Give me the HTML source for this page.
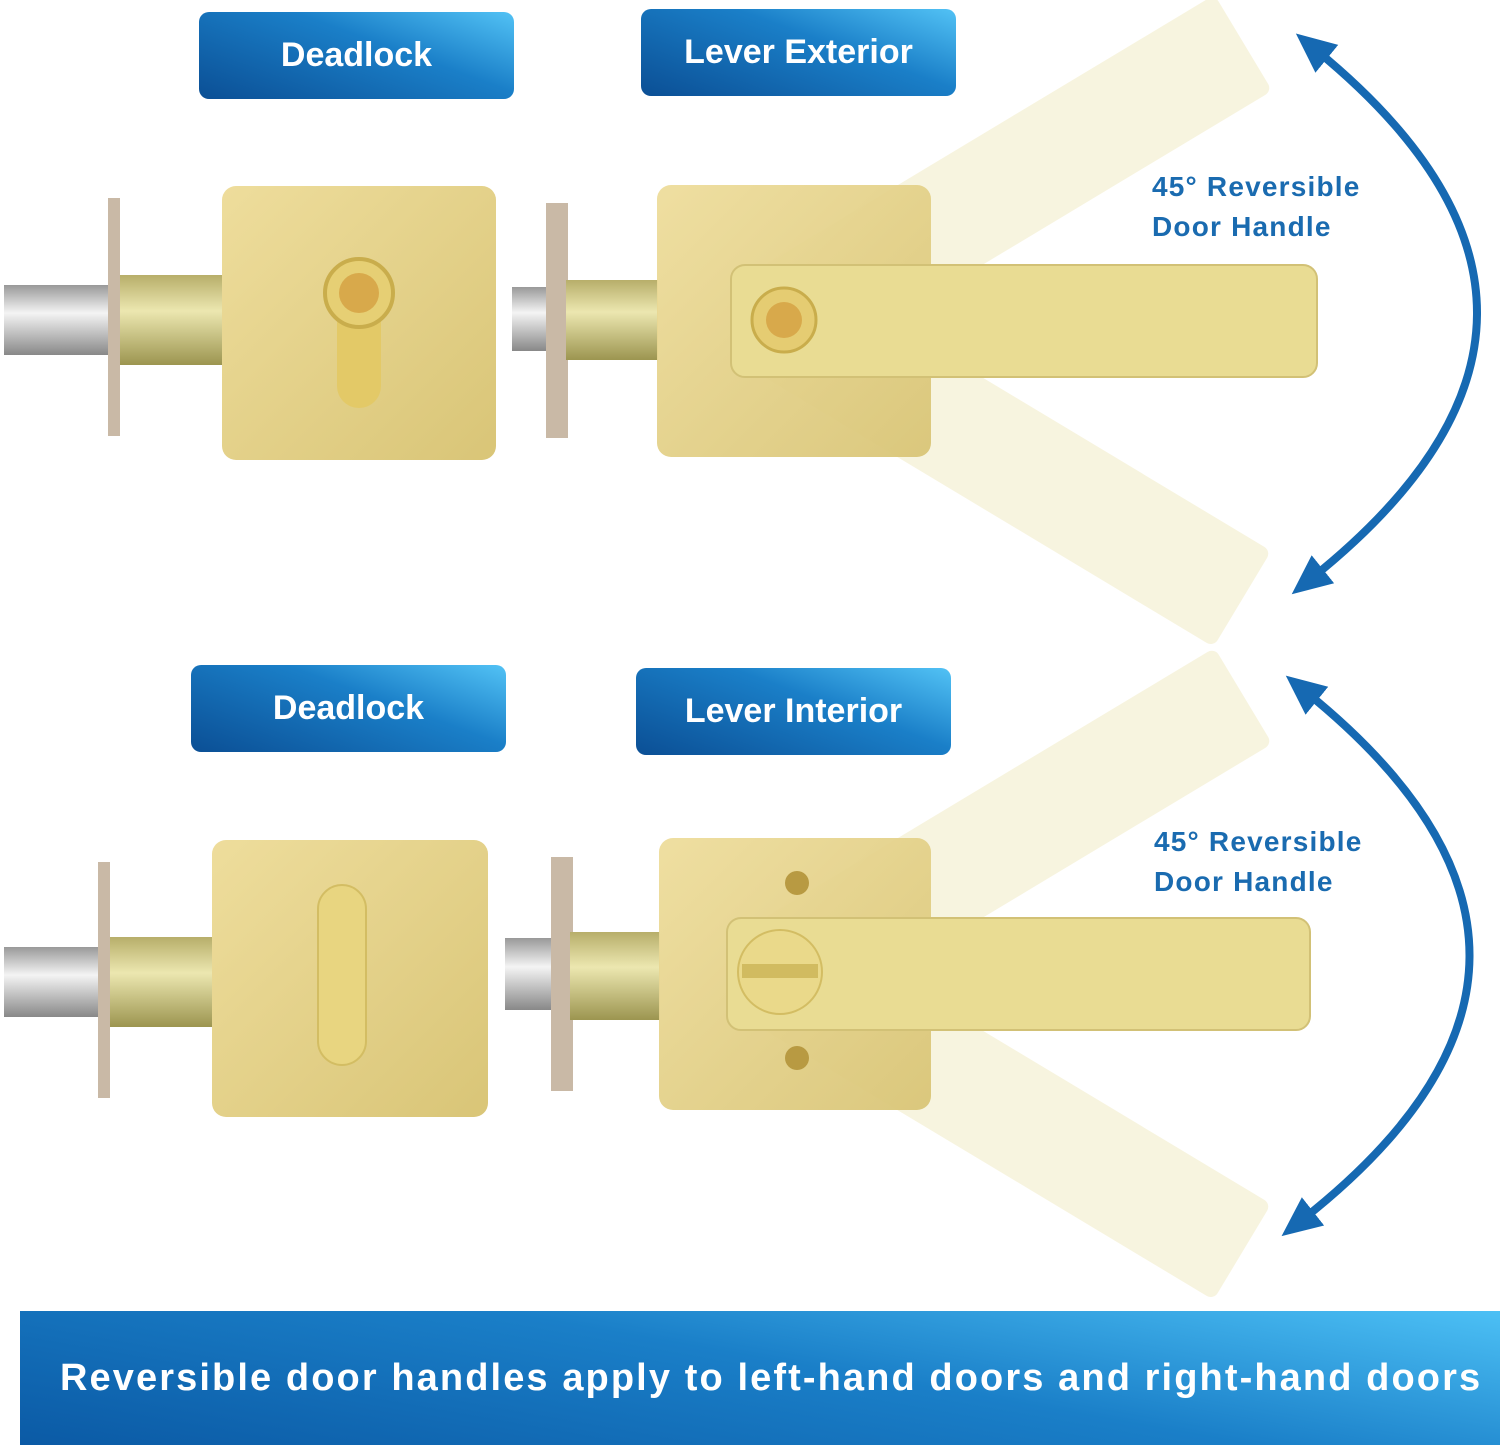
<!DOCTYPE html>
<html><head><meta charset="utf-8"><style>
html,body{margin:0;padding:0;background:#fff;}
body{width:1500px;height:1445px;position:relative;overflow:hidden;font-family:"Liberation Sans",sans-serif;}
.lbl{position:absolute;width:315px;height:87px;border-radius:10px;background:linear-gradient(200deg,#52c2f5 0%,#1a7fc8 40%,#0b4f95 100%);color:#fff;font-size:34px;font-weight:bold;display:flex;align-items:center;justify-content:center;}
.banner{position:absolute;left:20px;top:1311px;width:1480px;height:134px;background:linear-gradient(190deg,#4cc0f5 0%,#1a7fc8 45%,#0b5aa5 100%);color:#fff;font-size:38px;font-weight:bold;letter-spacing:2.1px;line-height:134px;padding-left:40px;box-sizing:border-box;white-space:nowrap;overflow:hidden;}
.txt{position:absolute;color:#1a6bb0;font-size:28px;font-weight:bold;line-height:40px;letter-spacing:1.2px;}
svg{position:absolute;left:0;top:0;}
</style></head><body>
<svg width="1500" height="1445" viewBox="0 0 1500 1445">
<defs>
<linearGradient id="g" x1="0" y1="0" x2="1" y2="1"><stop offset="0" stop-color="#eedd9c"/><stop offset="1" stop-color="#d9c577"/></linearGradient>
<linearGradient id="cyl" x1="0" y1="0" x2="0" y2="1"><stop offset="0" stop-color="#b7ae6a"/><stop offset=".4" stop-color="#ece7b0"/><stop offset="1" stop-color="#9c9550"/></linearGradient>
<linearGradient id="chr" x1="0" y1="0" x2="0" y2="1"><stop offset="0" stop-color="#999"/><stop offset=".4" stop-color="#f4f4f4"/><stop offset="1" stop-color="#888"/></linearGradient>
<marker id="ah" markerUnits="userSpaceOnUse" markerWidth="44" markerHeight="44" refX="14" refY="22" orient="auto-start-reverse"><path d="M0,4 L40,22 L0,40 z" fill="#1669b2"/></marker>
</defs>
<g fill="#f7f3dc" opacity="0.9">
<rect x="780" y="265" width="540" height="112" rx="8" transform="rotate(-31 780 320)"/>
<rect x="780" y="265" width="540" height="112" rx="8" transform="rotate(31 780 320)"/>
<rect x="780" y="918" width="540" height="112" rx="8" transform="rotate(-31 780 973)"/>
<rect x="780" y="918" width="540" height="112" rx="8" transform="rotate(31 780 973)"/>
</g>
<rect x="4" y="285" width="110" height="70" fill="url(#chr)"/>
<rect x="108" y="198" width="12" height="238" fill="#c9b9a6"/>
<rect x="120" y="275" width="104" height="90" fill="url(#cyl)"/>
<rect x="222" y="186" width="274" height="274" rx="14" fill="url(#g)"/>
<rect x="337" y="300" width="44" height="108" rx="22" fill="#e3c967"/>
<circle cx="359" cy="293" r="34" fill="#e6cf74" stroke="#c9ad4c" stroke-width="4"/>
<circle cx="359" cy="293" r="20" fill="#d8a94b"/>
<rect x="512" y="287" width="40" height="64" fill="url(#chr)"/>
<rect x="546" y="203" width="22" height="235" fill="#c9b9a6"/>
<rect x="566" y="280" width="92" height="80" fill="url(#cyl)"/>
<rect x="657" y="185" width="274" height="272" rx="14" fill="url(#g)" opacity="0.95"/>
<rect x="731" y="265" width="586" height="112" rx="14" fill="#e9dc93" stroke="#d2c176" stroke-width="2"/>
<circle cx="784" cy="320" r="32" fill="#e5cc72" stroke="#c9ad4c" stroke-width="3"/>
<circle cx="784" cy="320" r="18" fill="#d8a94b"/>
<rect x="4" y="947" width="110" height="70" fill="url(#chr)"/>
<rect x="98" y="862" width="12" height="236" fill="#c9b9a6"/>
<rect x="110" y="937" width="104" height="90" fill="url(#cyl)"/>
<rect x="212" y="840" width="276" height="277" rx="14" fill="url(#g)"/>
<rect x="318" y="885" width="48" height="180" rx="24" fill="#e8d580" stroke="#d3bd63" stroke-width="2"/>
<rect x="505" y="938" width="58" height="72" fill="url(#chr)"/>
<rect x="551" y="857" width="22" height="234" fill="#c9b9a6"/>
<rect x="570" y="932" width="90" height="88" fill="url(#cyl)"/>
<rect x="659" y="838" width="272" height="272" rx="14" fill="url(#g)" opacity="0.95"/>
<circle cx="797" cy="883" r="12" fill="#b89a42"/><circle cx="797" cy="1058" r="12" fill="#b89a42"/>
<rect x="727" y="918" width="583" height="112" rx="14" fill="#e9dc93" stroke="#d2c176" stroke-width="2"/>
<circle cx="780" cy="972" r="42" fill="#ead98a" stroke="#d3bd63" stroke-width="2"/>
<rect x="742" y="964" width="76" height="14" fill="#d1bb60"/>
<path d="M1316,50 Q1640,315 1312,578" fill="none" stroke="#1669b2" stroke-width="8" marker-start="url(#ah)" marker-end="url(#ah)"/>
<path d="M1306,692 Q1635,958 1302,1220" fill="none" stroke="#1669b2" stroke-width="8" marker-start="url(#ah)" marker-end="url(#ah)"/>
</svg>
<div class="lbl" style="left:199px;top:12px">Deadlock</div>
<div class="lbl" style="left:641px;top:9px">Lever Exterior</div>
<div class="lbl" style="left:191px;top:665px">Deadlock</div>
<div class="lbl" style="left:636px;top:668px">Lever Interior</div>
<div class="txt" style="left:1152px;top:167px">45° Reversible<br>Door Handle</div>
<div class="txt" style="left:1154px;top:822px">45° Reversible<br>Door Handle</div>
<div class="banner">Reversible door handles apply to left-hand doors and right-hand doors</div>
</body></html>
